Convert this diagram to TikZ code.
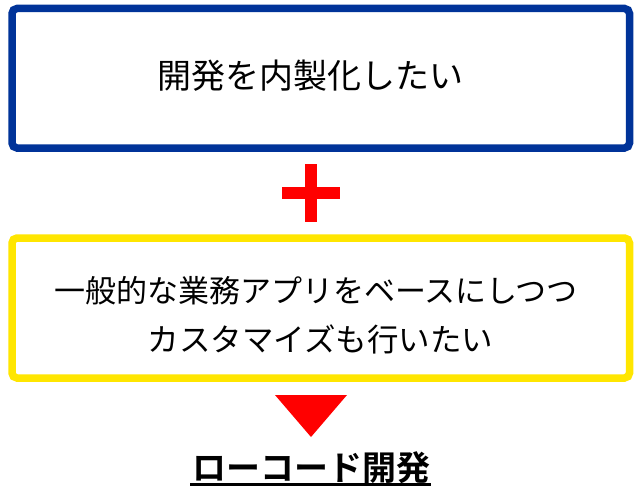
\documentclass[tikz,border=0pt]{standalone}
\usepackage{fontspec}
\newfontfamily\jp{Noto Sans CJK JP}[BoldFont={Noto Sans CJK JP Bold}]
\definecolor{boxblue}{RGB}{0,51,153}
\definecolor{boxyellow}{RGB}{255,230,0}
\definecolor{markred}{RGB}{255,0,0}
\tikzset{
  box/.style={draw, line width=7.5pt, rounded corners=5pt, minimum width=617.5pt, inner sep=0pt, fill=white},
  boxtext/.style={font=\jp, inner sep=0pt, anchor=center},
}
\begin{document}
\begin{tikzpicture}[x=1pt,y=-1pt]
\useasboundingbox[fill=white] (0,0) rectangle (644,495);
% boxes
\node[box, draw=boxblue, minimum height=139.5pt] (top) at (320.75,78.25) {};
\node[box, draw=boxyellow, minimum height=140pt] (mid) at (320.75,308) {};
% texts
\node[boxtext, font=\jp\fontsize{34}{40}\selectfont] (toptext) at (310,76) {開発を内製化したい};
\node[boxtext, font=\jp\fontsize{31}{40}\selectfont] (l1) at (316,290.5) {一般的な業務アプリをベースにしつつ};
\node[boxtext, font=\jp\fontsize{31.5}{40}\selectfont] (l2) at (320.5,339) {カスタマイズも行いたい};
% plus
\fill[markred] (282,187) rectangle (340,198.5);
\fill[markred] (305,164) rectangle (316.5,222);
% triangle
\fill[markred] (275,395) -- (347,395) -- (311,437) -- cycle;
% result
\node[boxtext, font=\jp\bfseries\fontsize{34}{40}\selectfont] (res) at (311.5,468) {ローコード開発};
\draw[line width=3pt] (res.south west |- 0,484.5) ++(-2,0) -- (431,484.5);
\end{tikzpicture}
\end{document}
